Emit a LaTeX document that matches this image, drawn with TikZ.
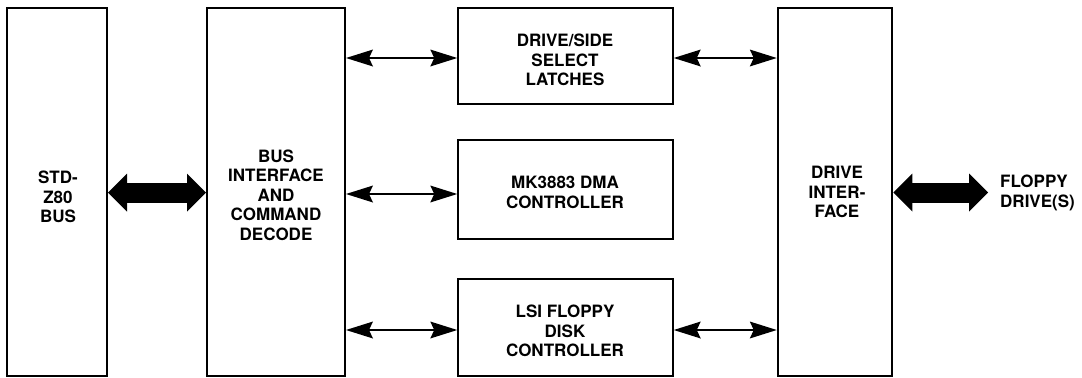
\documentclass[tikz,border=0pt]{standalone}
\usepackage{fontspec}
\setmainfont{TeX Gyre Heros}
\usetikzlibrary{arrows.meta}
\begin{document}
\begin{tikzpicture}[x=1bp,y=-1bp,
  box/.style={draw, line width=2bp, inner sep=0pt},
  lbl/.style={inner sep=0pt, align=center, font=\bfseries\fontsize{17bp}{19.5bp}\selectfont},
  bigarrow/.style={line width=20bp, line cap=butt,
    {Triangle[length=19bp,width=38bp,line width=0pt]}-{Triangle[length=19bp,width=38bp,line width=0pt]}},
  thinarrow/.style={line width=1.5bp,
    {Stealth[length=27bp,width=17bp,inset=4bp,line width=0pt]}-{Stealth[length=27bp,width=17bp,inset=4bp,line width=0pt]}}
]
\useasboundingbox (0,0) rectangle (1082,377);
\fill[white] (0,0) rectangle (1082,377);

% boxes
\node[box, minimum width=100bp, minimum height=368bp] (bus) at (57,192) {};
\node[box, minimum width=138bp, minimum height=368bp] (bi) at (276,192) {};
\node[box, minimum width=214.5bp, minimum height=96.5bp] (dss) at (565.5,55.75) {};
\node[box, minimum width=214.5bp, minimum height=99bp] (mk) at (565.5,189.5) {};
\node[box, minimum width=214.5bp, minimum height=96.5bp] (lsi) at (565.5,327.25) {};
\node[box, minimum width=114.5bp, minimum height=368.5bp] (di) at (835,191.75) {};

% labels
\node[lbl] (tbus) at (58,197) {STD-\\Z80\\BUS};
\node[lbl] (tbi) at (276,195) {BUS\\INTERFACE\\AND\\COMMAND\\DECODE};
\node[lbl] (tdss) at (565,60) {DRIVE/SIDE\\SELECT\\LATCHES};
\node[lbl] (tmk) at (565,192.5) {MK3883 DMA\\CONTROLLER};
\node[lbl] (tlsi) at (565,331) {LSI FLOPPY\\DISK\\CONTROLLER};
\node[lbl] (tdi) at (837,192) {DRIVE\\INTER-\\FACE};
\node[lbl, align=left, anchor=west] (tfd) at (1000,193) {FLOPPY\\DRIVE(S)};

% big arrows
\draw[bigarrow] ([yshift=-0.5bp]bus.east) -- ([yshift=-0.5bp]bi.west);
\coordinate (fdend) at (988,192.5);
\draw[bigarrow] (di.east |- fdend) -- (fdend);

% thin arrows
\coordinate (a1) at ([yshift=-2.25bp]dss.west);
\coordinate (a2) at ([yshift=-4.5bp]mk.west);
\coordinate (a3) at ([yshift=-2.75bp]lsi.west);
\coordinate (b1) at ([yshift=-2.25bp]dss.east);
\coordinate (b3) at ([yshift=-2.75bp]lsi.east);
\draw[thinarrow] (bi.east |- a1) -- (a1);
\draw[thinarrow] (bi.east |- a2) -- (a2);
\draw[thinarrow] (bi.east |- a3) -- (a3);
\draw[thinarrow] (b1) -- (di.west |- b1);
\draw[thinarrow] (b3) -- (di.west |- b3);
\end{tikzpicture}
\end{document}
